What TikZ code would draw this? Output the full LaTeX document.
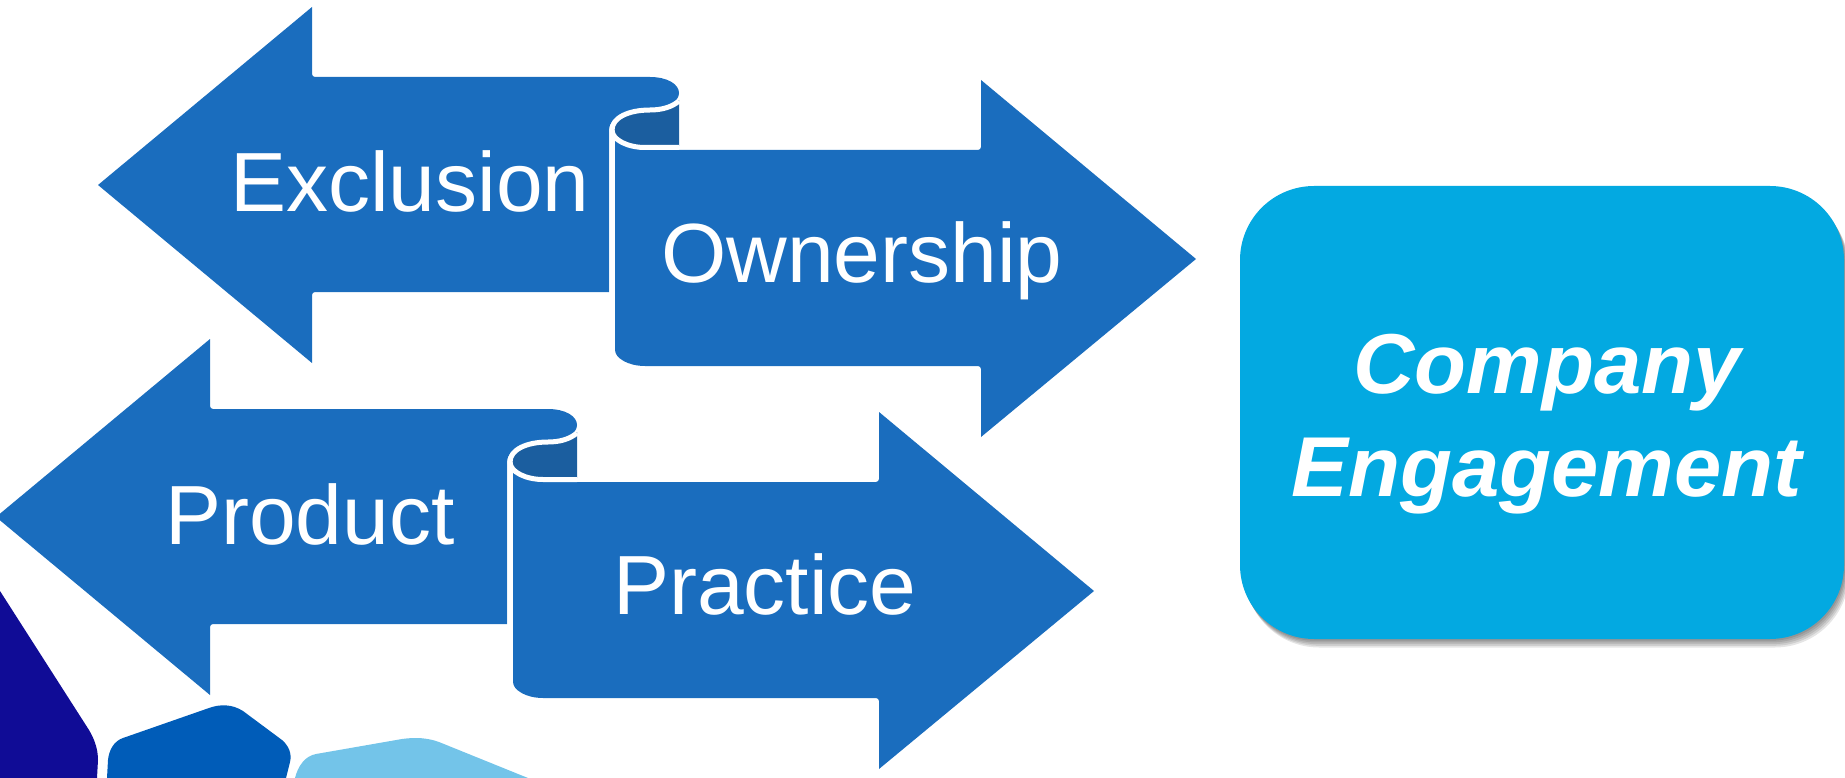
\documentclass[tikz,border=0pt]{standalone}
\usepackage{fontspec}
\setmainfont{Liberation Sans}
\definecolor{arrowblue}{HTML}{1A6DBE}
\definecolor{foldblue}{HTML}{1B5E9F}
\definecolor{boxblue}{HTML}{03A9E1}
\definecolor{hexnavy}{HTML}{100C96}
\definecolor{hexblue}{HTML}{005CB8}
\definecolor{hexsky}{HTML}{73C4E9}
\newcommand{\goalpath}{(1240,260)
    arc[start angle=180,end angle=225,radius=74] arc[start angle=225,end angle=270,radius=74] -- (1770,186)
    arc[start angle=270,end angle=315,radius=74] arc[start angle=315,end angle=360,radius=74] -- (1844,565)
    arc[start angle=0,end angle=45,radius=74] arc[start angle=45,end angle=90,radius=74] -- (1314,639)
    arc[start angle=90,end angle=135,radius=74] arc[start angle=135,end angle=180,radius=74] -- cycle}
\tikzset{
  arrowlabel/.style={anchor=base,text=white,inner sep=0pt,font=\fontsize{84}{100}\selectfont},
  goallabel/.style={anchor=base,text=white,inner sep=0pt,font=\fontsize{85}{100}\selectfont\bfseries\itshape},
  foldline/.style={draw=white,line width=5pt}
}
\begin{document}
\begin{tikzpicture}[x=1pt,y=-1pt]
\useasboundingbox (0,0) rectangle (1845,778);
\clip (0,0) rectangle (1845,778);

\foreach \dx/\dy/\lname/\lx/\rname/\rx in {0/0/Exclusion/410/Ownership/862,-102/332/Product/412/Practice/867}
{
\begin{scope}[shift={(\dx,\dy)}]
    % left arrow
    \fill[arrowblue] (98,185) -- (312,7) [rounded corners=3] -- (312,77) [sharp corners] -- (650,77)
        .. controls (667,77) and (679,84) .. (679,93)
        .. controls (679,102) and (667,108) .. (650,108)
        .. controls (626,108) and (609,118) .. (609,130)
        -- (609,292) [rounded corners=3] -- (312,292) [sharp corners] -- (312,363) -- cycle;
    % fold
    \fill[foldblue] (679,100) -- (679,146) -- (645,146)
        .. controls (628,146) and (612,140) .. (612,130)
        .. controls (612,118) and (628,110) .. (650,110)
        .. controls (662,110) and (672,107) .. (679,100) -- cycle;
    % right arrow
    \fill[arrowblue] (615,138) .. controls (622,145) and (633,150) .. (648,150)
        [rounded corners=3] -- (981,150) [sharp corners] -- (981,80) -- (1196,259) -- (981,437)
        [rounded corners=3] -- (981,366) [sharp corners] -- (645,366)
        .. controls (628,366) and (615,358) .. (615,350) -- cycle;
    \draw[foldline] (679,101) .. controls (672,107) and (662,110) .. (650,110)
        .. controls (628,110) and (612,118) .. (612,130) -- (612,292);
    \draw[foldline] (612,130) .. controls (612,140) and (628,147.5) .. (645,147.5) -- (679,147.5);
    \node[arrowlabel] (\lname) at (\lx,212) {\lname};
    \node[arrowlabel] (\rname) at (\rx,282) {\rname};
\end{scope}
}

% soft shadow, then the box
\foreach \s in {1,2,3,4,5}
{
    \fill[black,opacity=.1,shift={(\s*1,\s*1.7)}] \goalpath;
}
\fill[boxblue] \goalpath;
\node[goallabel] (company) at (1547,393) {Company};
\node[goallabel] (engagement) at (1547,496) {Engagement};

% shapes cut off by the lower edge
\fill[hexnavy] (0,591) -- (89,730) .. controls (95,740) and (98,750) .. (98,760) -- (97,778) -- (0,778) -- cycle;
\fill[hexblue] (107,778) -- (108,760) .. controls (109,750) and (114,741) .. (123,738) -- (209,708)
    .. controls (220,704) and (232,704) .. (243,711) -- (282,740)
    .. controls (289,746) and (292,754) .. (290,762) -- (286,778) -- cycle;
\fill[hexsky] (295,778) .. controls (298,766) and (305,756) .. (316,754) -- (402,739)
    .. controls (416,737) and (428,738) .. (439,742) -- (528,778) -- cycle;
\end{tikzpicture}
\end{document}
